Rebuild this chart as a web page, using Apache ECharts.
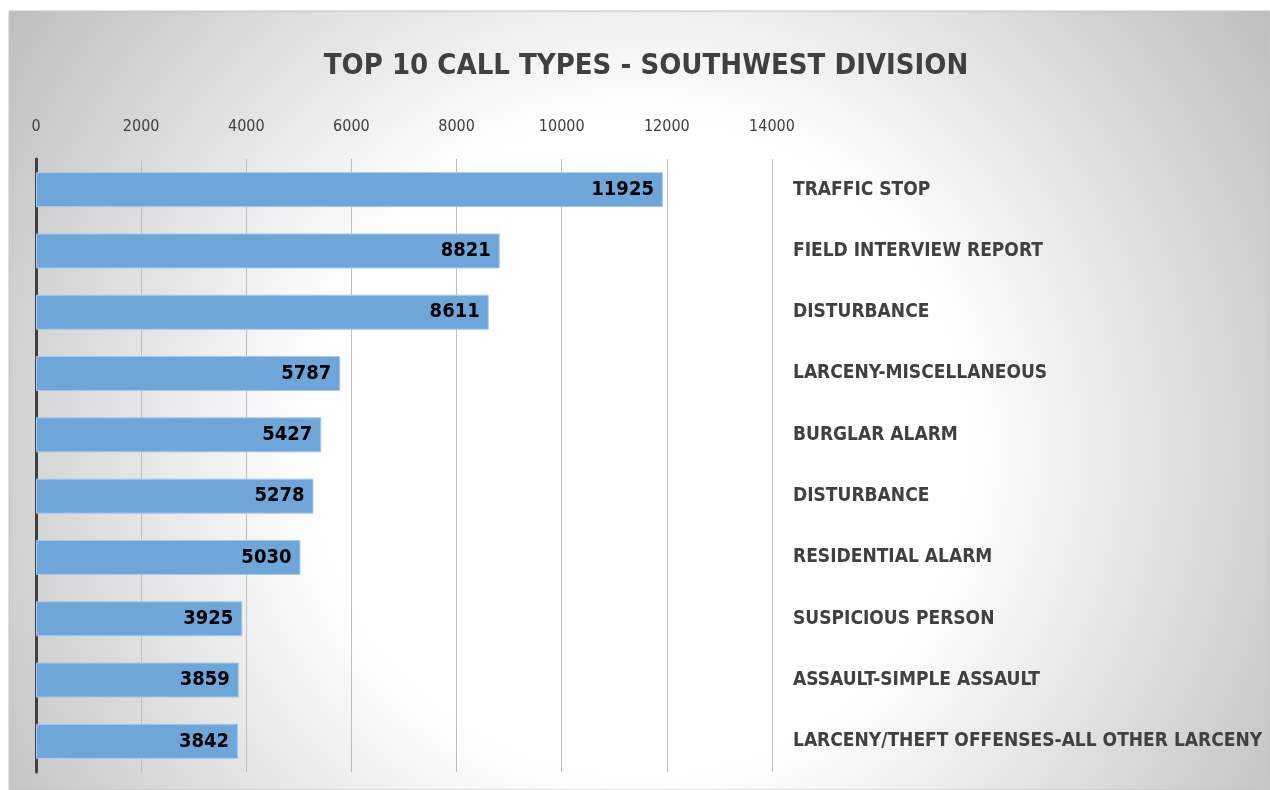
<!DOCTYPE html>
<html>
<head>
<meta charset="utf-8">
<script src="https://cdn.jsdelivr.net/npm/echarts@6/dist/echarts.min.js"></script>
<style>
  html, body { margin: 0; padding: 0; background: #fff; }
  #chart { width: 1270px; height: 790px; }
</style>
</head>
<body>
<div id="chart"></div>
<script>
var categories = ['TRAFFIC STOP', 'FIELD INTERVIEW REPORT', 'DISTURBANCE', 'LARCENY-MISCELLANEOUS',
    'BURGLAR ALARM', 'DISTURBANCE ', 'RESIDENTIAL ALARM', 'SUSPICIOUS PERSON',
    'ASSAULT-SIMPLE ASSAULT', 'LARCENY/THEFT OFFENSES-ALL OTHER LARCENY'];
var calls = [11925, 8821, 8611, 5787, 5427, 5278, 5030, 3925, 3859, 3842];

var narrow = '"DejaVu Sans Condensed", "Liberation Sans Narrow", sans-serif';

var chart = echarts.init(document.getElementById('chart'));

var option = {
    backgroundColor: '#fff',
    graphic: [{
        type: 'rect',
        z: -10,
        silent: true,
        shape: { x: 9, y: 11, width: 1261, height: 779 },
        style: {
            fill: new echarts.graphic.RadialGradient(0.5, 0.56, 1, [
                { offset: 0, color: '#ffffff' },
                { offset: 0.42, color: '#ffffff' },
                { offset: 0.55, color: '#f0f0f0' },
                { offset: 0.83, color: '#cfcfcf' },
                { offset: 1, color: '#bcbcbc' }
            ]),
            stroke: '#c4c4c4',
            lineWidth: 1
        }
    }],
    title: {
        text: 'TOP 10 CALL TYPES - SOUTHWEST DIVISION',
        left: 641,
        textAlign: 'center',
        top: 47,
        textStyle: { fontFamily: narrow, fontSize: 29, fontWeight: 'bold', color: '#404040' }
    },
    grid: { left: 36, right: 498, top: 159, bottom: 18, outerBoundsMode: 'none' },
    xAxis: {
        type: 'value',
        position: 'top',
        min: 0,
        max: 14000,
        interval: 2000,
        axisLine: { show: false },
        axisTick: { show: false },
        axisLabel: {
            margin: 24,
            fontFamily: narrow,
            fontSize: 16,
            color: '#404040',
            formatter: function (v) { return String(v); }
        },
        splitLine: { lineStyle: { color: '#bdbdbd', width: 1 } }
    },
    yAxis: [{
        type: 'category',
        data: categories,
        inverse: true,
        axisLine: { show: true, lineStyle: { color: '#404040', width: 3 } },
        axisTick: { show: false },
        axisLabel: { show: false }
    }, {
        type: 'category',
        data: categories,
        inverse: true,
        position: 'right',
        axisLine: { show: false },
        axisTick: { show: false },
        axisLabel: {
            margin: 21,
            fontFamily: narrow,
            fontSize: 19,
            fontWeight: 'bold',
            color: '#404040'
        }
    }],
    series: [{
        type: 'bar',
        data: calls,
        barWidth: 35,
        itemStyle: { color: '#6fa6da', borderColor: '#a9c9ea', borderWidth: 1 },
        label: {
            show: true,
            position: 'insideRight',
            distance: 9,
            fontFamily: narrow,
            fontSize: 20,
            fontWeight: 'bold',
            color: '#000'
        }
    }]
};
chart.setOption(option);
</script>
</body>
</html>
